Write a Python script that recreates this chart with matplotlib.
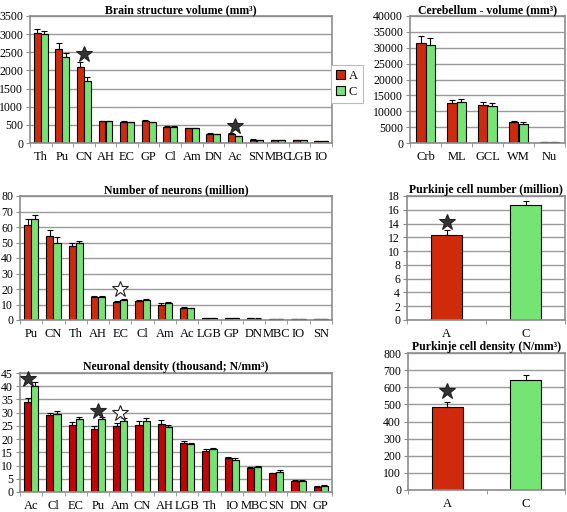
import numpy as np
import matplotlib
matplotlib.use("Agg")
import matplotlib.pyplot as plt
from matplotlib.patches import Patch

plt.rcParams['font.family'] = ['Liberation Serif', 'DejaVu Serif']

RED = '#D02A0C'
RED2 = '#C40404'
GREEN = '#74E474'
FRAME = '#8C8C8C'

# Brain structure volume (mm3)
vol_cats = ['Th', 'Pu', 'CN', 'AH', 'EC', 'GP', 'Cl', 'Am', 'DN', 'Ac', 'SN', 'MBC', 'LGB', 'IO']
vol_a = [3020, 2590, 2100, 600, 590, 610, 440, 400, 250, 250, 90, 75, 70, 55]
vol_c = [3000, 2370, 1720, 600, 570, 570, 450, 410, 240, 180, 80, 75, 70, 50]
vol_ea = [120, 170, 120, 20, 20, 20, 15, 20, 15, 15, 10, 10, 10, 8]
vol_ec = [90, 100, 110, 20, 20, 15, 20, 15, 15, 15, 10, 10, 10, 8]

# Cerebellum volume (mm3)
cer_cats = ['Crb', 'ML', 'GCL', 'WM', 'Nu']
cer_a = [31500, 12500, 12000, 6500, 300]
cer_c = [31000, 13000, 11800, 6000, 300]
cer_ea = [2200, 900, 1000, 400, 50]
cer_ec = [2200, 900, 900, 600, 50]

# Number of neurons (million)
num_cats = ['Pu', 'CN', 'Th', 'AH', 'EC', 'Cl', 'Am', 'Ac', 'LGB', 'GP', 'DN', 'MBC', 'IO', 'SN']
num_a = [61.5, 54.5, 47.5, 15, 11.5, 12.5, 10, 8, 1.5, 1.2, 1.0, 0.6, 0.6, 0.5]
num_c = [65, 49.5, 49.5, 15, 13, 13, 11, 7.5, 1.5, 1.3, 0.9, 0.6, 0.6, 0.5]
num_ea = [3.5, 3.5, 2.5, 0.5, 0.5, 0.5, 1, 0.5, 0.1, 0.1, 0.1, 0.1, 0.1, 0.1]
num_ec = [3, 4, 1.5, 0.5, 0.5, 0.3, 0.5, 0.5, 0.1, 0.1, 0.1, 0.1, 0.1, 0.1]

# Neuronal density (thousand; N/mm3)
den_cats = ['Ac', 'Cl', 'EC', 'Pu', 'Am', 'CN', 'AH', 'LGB', 'Th', 'IO', 'MBC', 'SN', 'DN', 'GP']
den_a = [34, 29, 25.5, 24, 25, 25.3, 25.8, 18.7, 15.5, 12.7, 9, 7, 4, 2]
den_c = [40, 29.5, 27.5, 27.5, 27, 26.8, 24.7, 18, 16.2, 12.2, 9.5, 7.7, 4, 2.3]
den_ea = [1.5, 1, 0.8, 1, 1, 1.5, 1.5, 0.5, 0.7, 0.7, 0.3, 0.3, 0.5, 0.2]
den_ec = [1.5, 1, 1, 1, 1, 1.2, 0.7, 0.5, 0.5, 0.5, 0.3, 0.5, 0.5, 0.2]

# Purkinje cells
pk_cats = ['A', 'C']
pk_num = [12.3, 16.7]
pk_num_err = [0.8, 0.6]
pk_den = [485, 645]
pk_den_err = [30, 25]

W, H = 567, 512
fig = plt.figure(figsize=(W / 100, H / 100), dpi=100)


def add_ax(x0, y0, x1, y1):
    return fig.add_axes([x0 / W, 1 - y1 / H, (x1 - x0) / W, (y1 - y0) / H])


def style(ax, cats, ymax, step, title):
    n = len(cats)
    ax.set_xlim(-0.5, n - 0.5)
    ax.set_ylim(0, ymax)
    ax.set_yticks(np.arange(0, ymax + step / 2, step))
    ax.yaxis.grid(True, color='#9A9A9A', lw=1.0)
    ax.set_axisbelow(True)
    for s in ax.spines.values():
        s.set_color(FRAME)
        s.set_linewidth(1.2)
    ax.set_xticks(range(n))
    ax.set_xticklabels(cats)
    ax.set_xticks(np.arange(-0.5, n, 1.0), minor=True)
    ax.tick_params(axis='x', which='major', length=0, pad=5.5, labelsize=9)
    ax.tick_params(axis='x', which='minor', length=3, color=FRAME, direction='out')
    ax.tick_params(axis='y', length=3, color=FRAME, labelsize=8.5, pad=2)
    ax.set_title(title, fontsize=8.5, fontweight='bold', pad=2)


def grouped(ax, a, c, ea, ec, red=RED, w=0.32):
    x = np.arange(len(a))
    ax.bar(x - w / 2, a, w, color=red, edgecolor='black', lw=0.8,
           yerr=[np.zeros(len(a)), ea], error_kw=dict(capsize=2.2, elinewidth=0.8, capthick=0.8))
    ax.bar(x + w / 2, c, w, color=GREEN, edgecolor='black', lw=0.8,
           yerr=[np.zeros(len(c)), ec], error_kw=dict(capsize=2.2, elinewidth=0.8, capthick=0.8))


def star(ax, x, y, filled=True, ms=12):
    ax.plot(x, y, marker='*', ms=ms, color='#333333' if filled else 'white',
            markeredgecolor='#222222', mew=0.8, clip_on=False, zorder=5)


# Brain structure volume
ax1 = add_ax(30, 16, 332, 143)
grouped(ax1, vol_a, vol_c, vol_ea, vol_ec)
style(ax1, vol_cats, 3500, 500, 'Brain structure volume (mm³)')
star(ax1, 2, 2450)
star(ax1, 9, 480)

# Cerebellum volume
ax2 = add_ax(410, 16, 565, 143)
grouped(ax2, cer_a, cer_c, cer_ea, cer_ec)
style(ax2, cer_cats, 40000, 5000, 'Cerebellum - volume (mm³)')

# Number of neurons
ax3 = add_ax(20, 196, 332, 320)
grouped(ax3, num_a, num_c, num_ea, num_ec)
style(ax3, num_cats, 80, 10, 'Number of neurons (million)')
star(ax3, 4, 20, filled=False)

# Purkinje cell number
ax4 = add_ax(407, 196, 565, 320)
ax4.bar([0, 1], pk_num, 0.4, color=[RED, GREEN], edgecolor='black', lw=0.8,
        yerr=[[0, 0], pk_num_err], error_kw=dict(capsize=2.5, elinewidth=0.8, capthick=0.8))
style(ax4, pk_cats, 18, 2, 'Purkinje cell number (million)')
star(ax4, 0, 14.2)

# Neuronal density
ax5 = add_ax(20, 373, 332, 492)
grouped(ax5, den_a, den_c, den_ea, den_ec, red=RED2)
style(ax5, den_cats, 45, 5, 'Neuronal density (thousand; N/mm³)')
star(ax5, -0.15, 42.8)
star(ax5, 3, 30.5)
star(ax5, 4, 30, filled=False)

# Purkinje cell density
ax6 = add_ax(408, 353, 565, 490)
ax6.bar([0, 1], pk_den, 0.4, color=[RED, GREEN], edgecolor='black', lw=0.8,
        yerr=[[0, 0], pk_den_err], error_kw=dict(capsize=2.5, elinewidth=0.8, capthick=0.8))
style(ax6, pk_cats, 800, 100, 'Purkinje cell density (N/mm³)')
star(ax6, 0, 580)

# legend
handles = [Patch(facecolor=RED, edgecolor='black', lw=0.8, label='A'),
           Patch(facecolor=GREEN, edgecolor='black', lw=0.8, label='C')]
leg = fig.legend(handles=handles, loc='center', bbox_to_anchor=(347 / W, 1 - 84 / H),
                 fontsize=9, handlelength=0.7, handleheight=0.7, handletextpad=0.3,
                 borderpad=0.4, labelspacing=0.3, fancybox=False, framealpha=1)
leg.get_frame().set_edgecolor('#BBBBBB')
leg.get_frame().set_linewidth(0.8)

fig.savefig('out.png', dpi=100)
